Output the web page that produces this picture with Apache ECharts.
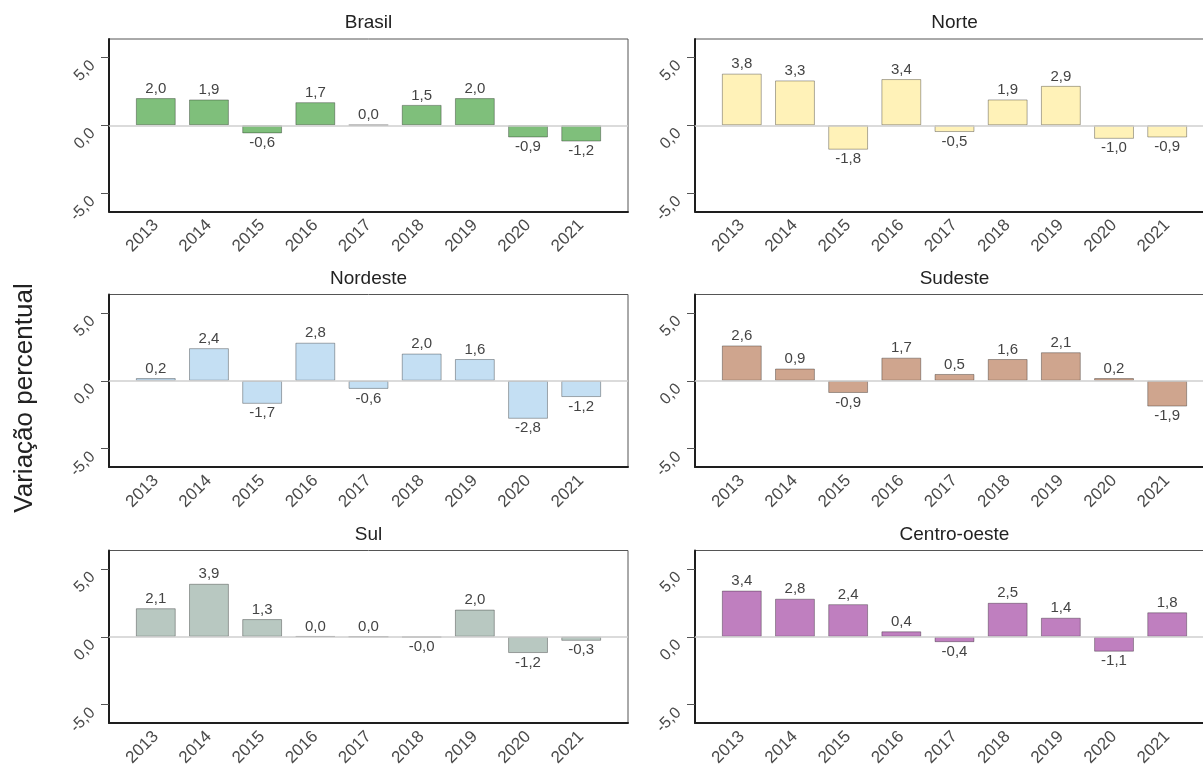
<!DOCTYPE html>
<html>
<head>
<meta charset="utf-8">
<script src="https://cdn.jsdelivr.net/npm/echarts@6/dist/echarts.min.js"></script>
<style>
  html, body { margin: 0; padding: 0; background: #ffffff; }
  #chart { width: 1203px; height: 765px; }
</style>
</head>
<body>
<div id="chart"></div>
<script>
// Annual percentage change by region, 2013-2021
const years = ['2013', '2014', '2015', '2016', '2017', '2018', '2019', '2020', '2021'];
const regionNames = ['Brasil', 'Norte', 'Nordeste', 'Sudeste', 'Sul', 'Centro-oeste'];

const brasil      = [2.0, 1.9, -0.6, 1.7, 0.02, 1.5, 2.0, -0.9, -1.2];
const norte       = [3.8, 3.3, -1.8, 3.4, -0.5, 1.9, 2.9, -1.0, -0.9];
const nordeste    = [0.2, 2.4, -1.7, 2.8, -0.6, 2.0, 1.6, -2.8, -1.2];
const sudeste     = [2.6, 0.9, -0.9, 1.7, 0.5, 1.6, 2.1, 0.2, -1.9];
const sul         = [2.1, 3.9, 1.3, 0.04, 0.0, -0.04, 2.0, -1.2, -0.3];
const centroOeste = [3.4, 2.8, 2.4, 0.4, -0.4, 2.5, 1.4, -1.1, 1.8];

const yTicks = [-5, 0, 5];

const regionValues = [brasil, norte, nordeste, sudeste, sul, centroOeste];
const regionColors = ['#7fbf7b', '#fff2b8', '#c4dff3', '#cfa58e', '#b8c8c1', '#bf7fbf'];

// panel frames: two columns, three rows
const colLeft = [109, 695];
const rowTop = [39, 294.5, 550.5];
const frameW = 519;
const frameH = 172.5;
const yLim = 6.35;
const xPad = 0.88;

const FONT = '"Liberation Sans", Arial, sans-serif';
const fmt = v => v.toFixed(1).replace('.', ',');

const grids = [], xAxes = [], yAxes = [], series = [], graphics = [];

regionNames.forEach((name, k) => {
  const c = k % 2, r = Math.floor(k / 2);
  const left = colLeft[c], top = rowTop[r];

  grids.push({
    left: left, top: top, width: frameW, height: frameH,
    show: true, borderColor: '#555555', borderWidth: 1,
    containLabel: false, outerBoundsMode: 'none'
  });

  xAxes.push({
    gridIndex: k, type: 'value', min: -xPad, max: years.length - 1 + xPad,
    axisLine: { show: true, onZero: false, lineStyle: { color: '#1e1e1e', width: 2 } },
    axisTick: { show: false },
    splitLine: { show: false },
    axisLabel: {
      customValues: years.map((_, i) => i),
      formatter: v => years[Math.round(v)] || '',
      rotate: 45, fontSize: 17, color: '#4a4a4a', margin: 11, fontFamily: FONT
    }
  });

  yAxes.push({
    gridIndex: k, type: 'value', min: -yLim, max: yLim,
    axisLine: { show: true, onZero: false, lineStyle: { color: '#1e1e1e', width: 2 } },
    axisTick: { show: true, customValues: yTicks, length: 8, lineStyle: { color: '#555555', width: 1 } },
    splitLine: { show: false },
    axisLabel: {
      customValues: yTicks, formatter: v => fmt(v),
      rotate: 45, align: 'right', verticalAlign: 'top',
      fontSize: 16, color: '#4a4a4a', margin: 22, fontFamily: FONT
    }
  });

  const vals = regionValues[k];
  series.push({
    type: 'bar', name: name, xAxisIndex: k, yAxisIndex: k,
    barWidth: '75%',
    itemStyle: { color: regionColors[k], borderColor: 'rgba(0,0,0,0.32)', borderWidth: 1 },
    label: {
      show: true, distance: 2, fontSize: 15, color: '#444444', fontFamily: FONT,
      formatter: p => fmt(p.value[1])
    },
    data: vals.map((v, i) => ({ value: [i, v], label: { position: v < 0 ? 'bottom' : 'top' } })),
    markLine: {
      silent: true, symbol: 'none', label: { show: false },
      lineStyle: { color: '#cfcfcf', width: 1.5, type: 'solid' },
      emphasis: { disabled: true },
      data: [{ yAxis: 0 }]
    }
  });

  graphics.push({
    type: 'text', x: left + frameW / 2, y: top - 16,
    style: {
      text: name, font: '19px ' + FONT, fill: '#222222',
      align: 'center', verticalAlign: 'middle',
      textAlign: 'center', textVerticalAlign: 'middle'
    }
  });
});

graphics.push({
  type: 'text', x: 25, y: 398, rotation: Math.PI / 2,
  style: {
    text: 'Variação percentual', font: '26px ' + FONT, fill: '#222222',
    align: 'center', verticalAlign: 'middle',
    textAlign: 'center', textVerticalAlign: 'middle'
  }
});

const chart = echarts.init(document.getElementById('chart'), null, { renderer: 'canvas' });
chart.setOption({
  animation: false,
  backgroundColor: '#ffffff',
  textStyle: { fontFamily: FONT },
  grid: grids,
  xAxis: xAxes,
  yAxis: yAxes,
  series: series,
  graphic: graphics
});
</script>
</body>
</html>
